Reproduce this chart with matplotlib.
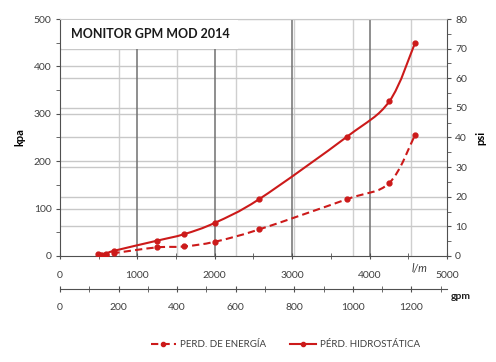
import matplotlib.pyplot as plt
import matplotlib.ticker as ticker
from matplotlib.path import Path
from matplotlib.patches import PathPatch
from matplotlib.lines import Line2D

plt.rcParams["font.family"] = ["Lato", "DejaVu Sans"]

# Caudal (l/min) y presion (kPa)
lpm_hidro = [487, 594, 702, 1249, 1606, 2003, 2575, 3712, 4255, 4587]
kpa_hidro = [5, 5, 11, 32, 46, 70, 120, 252, 326, 449]
lpm_energia = [530, 594, 702, 1249, 1606, 2003, 2575, 3712, 4255, 4587]
kpa_energia = [2, 3, 6, 18, 20, 30, 56, 120, 154, 255]

RED = "#CC1A1A"
TICK = "#404040"
LPM_PER_GPM = 3.785


def smooth_path(xs, ys):
    # Excel-style smoothed line: cubic Bezier through the points
    pts = list(zip(xs, ys))
    verts = [pts[0]]
    codes = [Path.MOVETO]
    n = len(pts)
    for i in range(n - 1):
        p0 = pts[max(i - 1, 0)]
        p1 = pts[i]
        p2 = pts[i + 1]
        p3 = pts[min(i + 2, n - 1)]
        c1 = (p1[0] + (p2[0] - p0[0]) / 6, p1[1] + (p2[1] - p0[1]) / 6)
        c2 = (p2[0] - (p3[0] - p1[0]) / 6, p2[1] - (p3[1] - p1[1]) / 6)
        verts += [c1, c2, p2]
        codes += [Path.CURVE4] * 3
    return Path(verts, codes)


fig = plt.figure(figsize=(4.96, 3.62), dpi=100)
ax = fig.add_axes([0.121, 0.293, 0.780, 0.6545])

ax.set_xlim(0, 5000)
ax.set_ylim(0, 500)

# grid: l/m (dark), gpm (light), kpa and psi (light)
for v in range(1000, 5000, 1000):
    ax.axvline(v, color="#707070", lw=1.1, zorder=1)
for g in range(200, 1400, 200):
    ax.axvline(g * LPM_PER_GPM, color="#cfcfcf", lw=1.0, zorder=0.5)
for k in range(100, 600, 100):
    ax.axhline(k, color="#c8c8c8", lw=1.0, zorder=0.5)
for p in range(10, 80, 10):
    ax.axhline(p / 80 * 500, color="#c8c8c8", lw=1.0, zorder=0.5)

ax.add_patch(PathPatch(smooth_path(lpm_hidro, kpa_hidro), fill=False,
                       edgecolor=RED, lw=1.5, zorder=3))
ax.add_patch(PathPatch(smooth_path(lpm_energia, kpa_energia), fill=False,
                       edgecolor=RED, lw=1.5, ls=(0, (3.5, 2)), zorder=3))
ax.plot(lpm_hidro, kpa_hidro, ls="none", marker="o", ms=3.5, color=RED, zorder=4)
ax.plot(lpm_energia, kpa_energia, ls="none", marker="o", ms=3.5, color=RED, zorder=4)

ax.spines["top"].set_color("#c8c8c8")
for s in ["left", "bottom", "right"]:
    ax.spines[s].set_color("#505050")

ax.xaxis.set_major_locator(ticker.MultipleLocator(1000))
ax.xaxis.set_minor_locator(ticker.MultipleLocator(500))
ax.yaxis.set_major_locator(ticker.MultipleLocator(100))
ax.yaxis.set_minor_locator(ticker.MultipleLocator(50))
ax.tick_params(axis="x", which="both", direction="inout", length=5, colors="#505050",
               labelcolor=TICK, labelsize=7.5, pad=8)
ax.tick_params(axis="y", which="both", direction="out", length=3, colors="#505050",
               labelcolor=TICK, labelsize=7.5, pad=3)

ax2 = ax.twinx()
ax2.set_ylim(0, 80)
ax2.yaxis.set_major_locator(ticker.MultipleLocator(10))
ax2.yaxis.set_minor_locator(ticker.MultipleLocator(5))
ax2.tick_params(axis="y", which="both", direction="out", length=3, colors="#505050",
                labelcolor=TICK, labelsize=7.5, pad=3)
for s in ax2.spines.values():
    s.set_visible(False)

sec = ax.secondary_xaxis(-0.139, functions=(lambda x: x / LPM_PER_GPM,
                                             lambda g: g * LPM_PER_GPM))
sec.xaxis.set_major_locator(ticker.FixedLocator(list(range(0, 1400, 200))))
sec.xaxis.set_minor_locator(ticker.FixedLocator(list(range(100, 1400, 200))))
sec.tick_params(axis="x", which="both", direction="inout", length=5, colors="#505050",
                labelcolor=TICK, labelsize=7.5, pad=8)
sec.spines["bottom"].set_color("#505050")

ax.set_ylabel("kpa", fontsize=8, fontweight="bold", labelpad=6)
ax2.set_ylabel("psi", fontsize=8, fontweight="bold", labelpad=6)
ax.text(0.93, -0.055, "l/m", transform=ax.transAxes, fontsize=8, fontstyle="italic",
        color=TICK, ha="center", va="center")
ax.text(1.035, -0.17, "gpm", transform=ax.transAxes, fontsize=7.5, fontweight="bold",
        color="#202020", ha="center", va="center")

ax.text(0.028, 0.935, "MONITOR GPM MOD 2014", transform=ax.transAxes, fontsize=9,
        fontweight="bold", color="#1a1a1a", ha="left", va="center", zorder=6,
        bbox=dict(facecolor="white", edgecolor="none", pad=6))

handles = [Line2D([], [], color=RED, lw=1.5, ls=(0, (3.5, 2)), marker="o", ms=3),
           Line2D([], [], color=RED, lw=1.5, marker="o", ms=3)]
fig.legend(handles, ["PERD. DE ENERGÍA", "PÉRD. HIDROSTÁTICA"], loc="center",
           bbox_to_anchor=(0.575, 0.047), ncol=2, frameon=False, fontsize=7,
           handlelength=2.6, columnspacing=2.5, handletextpad=0.4,
           labelcolor=TICK)

plt.savefig("out.png", dpi=100, facecolor="white")
